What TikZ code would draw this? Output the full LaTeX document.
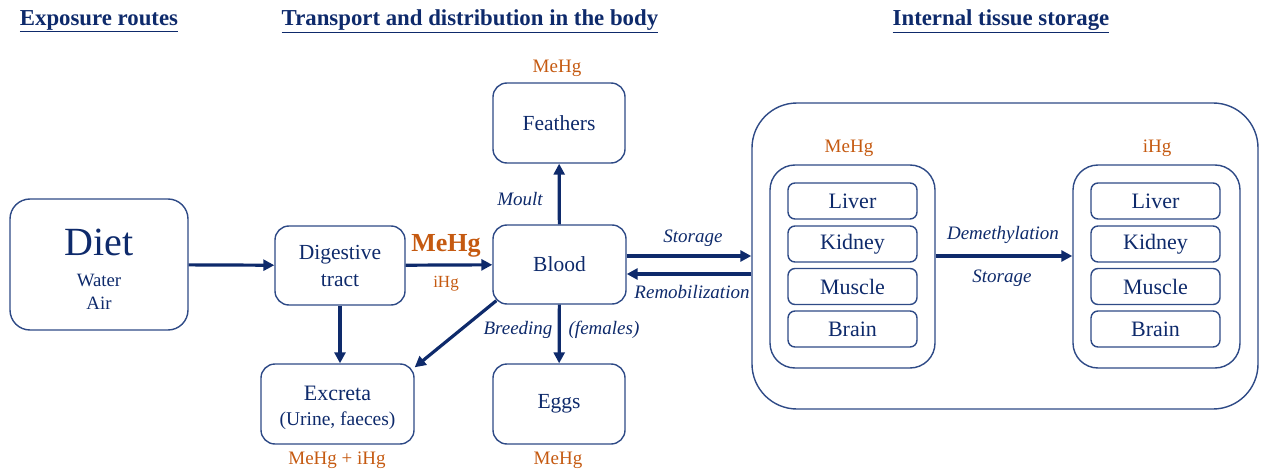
\documentclass[tikz,border=0pt]{standalone}
\usepackage{fontspec}
\setmainfont{LiberationSerif}[Extension=.ttf, UprightFont=*-Regular, BoldFont=*-Bold, ItalicFont=*-Italic, BoldItalicFont=*-BoldItalic]
\usetikzlibrary{positioning,calc,arrows.meta}
\definecolor{navy}{HTML}{0E2A6B}
\definecolor{boxline}{HTML}{2E4A86}
\definecolor{hgorange}{HTML}{C55A11}
\tikzset{font=\rmfamily\fontsize{21.5}{25}\selectfont}

\begin{document}
\begin{tikzpicture}[x=1pt, y=-1pt,
	box/.style={draw=boxline, line width=1.4pt, rounded corners=14pt, text=navy, align=center, inner sep=0pt},
	organ/.style={box, rounded corners=7pt, minimum width=129pt, minimum height=36pt},
	flow/.style={draw=navy, line width=3.2pt, -{Triangle[length=11pt,width=11pt]}},
	lbl/.style={text=navy, font=\itshape\fontsize{19}{22}\selectfont},
	hg/.style={text=hgorange, font=\fontsize{19}{22}\selectfont},
	header/.style={text=navy, font=\bfseries\fontsize{22.8}{26}\selectfont}]
	\useasboundingbox (0, 0) rectangle (1263, 473);

	% headers
	\node[header] (h1) at (99, 21) {\underline{Exposure routes}};
	\node[header] (h2) at (470, 21) {\underline{Transport and distribution in the body}};
	\node[header] (h3) at (1001, 21) {\underline{Internal tissue storage}};

	% exposure and body compartments
	\node[box, rounded corners=20pt, minimum width=178pt, minimum height=131pt] (diet) at (99, 264.5) {};
	\node[text=navy, align=center, font=\fontsize{18.8}{23}\selectfont] (dietx) at (99, 269)
		{{\fontsize{40}{42}\selectfont Diet}\\[8pt] Water\\Air};
	\node[box, minimum width=130pt, minimum height=79pt, font=\fontsize{21.5}{27}\selectfont] (dig) at (340, 265.5) {Digestive\\tract};
	\node[box, minimum width=133pt, minimum height=79pt] (blood) at (559.5, 264.5) {Blood};
	\node[box, minimum width=132pt, minimum height=80pt] (feathers) at (559, 123) {Feathers};
	\node[box, minimum width=132pt, minimum height=80pt] (eggs) at (559, 404) {Eggs};
	\node[box, minimum width=153pt, minimum height=80pt] (excreta) at (337.5, 404) {};
	\node[text=navy, align=center, font=\fontsize{22}{25}\selectfont] (excretax) at (337.5, 407.5)
		{Excreta\\ \fontsize{19.5}{25}\selectfont (Urine, faeces)};

	% internal storage
	\node[box, rounded corners=45pt, minimum width=506pt, minimum height=306pt] (tissue) at (1005, 256) {};
	\node[box, rounded corners=25pt, minimum width=165pt, minimum height=203pt] (mehg) at (852.5, 266.5) {};
	\node[box, rounded corners=25pt, minimum width=167pt, minimum height=203pt] (ihg) at (1156.5, 266.5) {};

	\foreach \org/\y in {liver/201, kidney/244, muscle/286.5, brain/329} {
		\node[organ] (m\org) at (852.5, \y) {};
		\node[organ] (i\org) at (1155.5, \y) {};
	}
	\tikzset{every node/.append style={font=\fontsize{22}{25}\selectfont}}
	\node[text=navy] at (mliver) {Liver};   \node[text=navy] at (iliver) {Liver};
	\node[text=navy] at (mkidney) {Kidney}; \node[text=navy] at (ikidney) {Kidney};
	\node[text=navy] at (mmuscle) {Muscle}; \node[text=navy] at (imuscle) {Muscle};
	\node[text=navy] at (mbrain) {Brain};   \node[text=navy] at (ibrain) {Brain};

	% mercury species
	\node[hg] (hgfeat) at (557, 68) {MeHg};
	\node[hg, font=\bfseries\fontsize{26}{29}\selectfont] (hgdig) at (446, 246) {MeHg};
	\node[hg, font=\fontsize{17}{20}\selectfont] (ihgdig) at (446, 284) {iHg};
	\node[hg] (hgexc) at (337, 460) {MeHg + iHg};
	\node[hg] (hgeggs) at (558, 460) {MeHg};
	\node[hg] (hgmehg) at (849, 148) {MeHg};
	\node[hg] (hgihg) at (1157, 148) {iHg};

	% flows
	\draw[flow] (diet) -- (dig);
	\draw[flow] (dig) -- (blood);
	\draw[flow] (blood) -- (feathers);
	\draw[flow] (blood) -- (eggs);
	\draw[flow] (dig) -- (dig |- excreta.north);
	\draw[flow] ($(blood.south west)+(4,-4)$) -- ($(excreta.north east)+(0,4)$);
	\draw[flow] ([yshift=8.5pt]blood.east) -- ([yshift=8.5pt]blood.east -| tissue.west);
	\draw[flow] ([yshift=-9.5pt]blood.east -| tissue.west) -- ([yshift=-9.5pt]blood.east);
	\draw[flow] ([yshift=10.5pt]mehg.east) -- ([yshift=10.5pt]mehg.east -| ihg.west);

	% flow labels
	\node[lbl] (moult) at (520, 199) {Moult};
	\node[lbl] (breed) at (518, 330) {Breeding};
	\node[lbl] (fem) at (604, 330) {(females)};
	\node[lbl] (stor) at (693, 238) {Storage};
	\node[lbl] (remob) at (692, 292) {Remobilization};
	\node[lbl] (demeth) at (1003, 235) {Demethylation};
	\node[lbl] (stor2) at (1002, 278) {Storage};
\end{tikzpicture}
\end{document}
